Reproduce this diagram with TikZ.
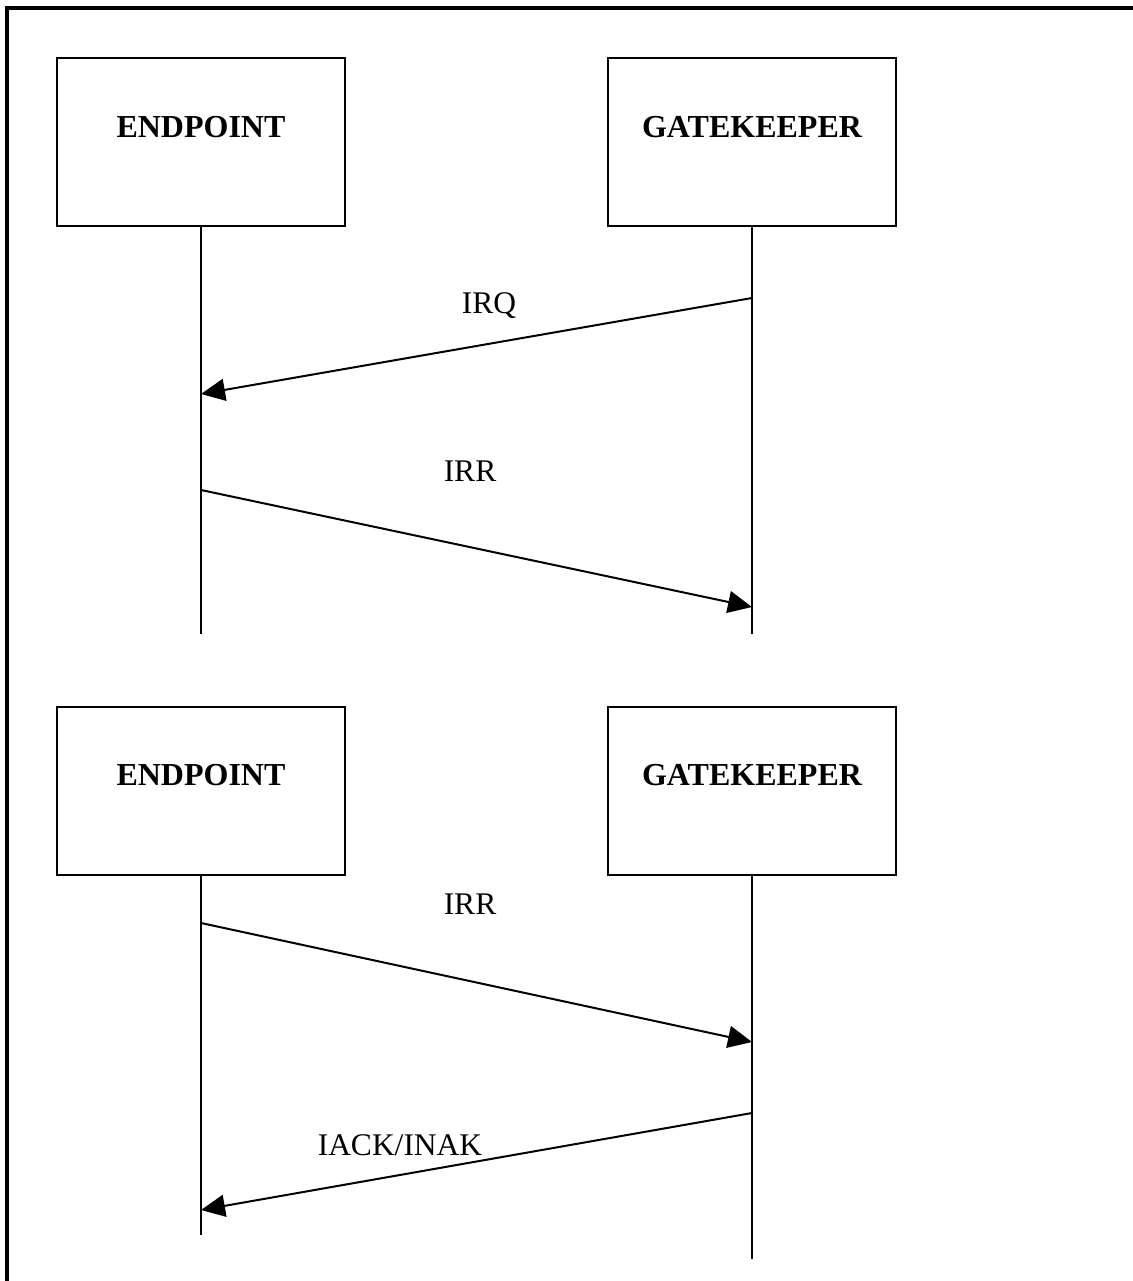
\documentclass[tikz,border=0pt]{standalone}
\usepackage{fontspec}
\setmainfont{Liberation Serif}
\usetikzlibrary{arrows.meta}
\begin{document}
\begin{tikzpicture}[x=1pt,y=-1pt,
  every node/.style={inner sep=0pt,outer sep=0pt},
  entity/.style={draw,line width=2pt,minimum width=288pt,minimum height=168pt},
  entitytext/.style={font=\fontsize{32}{36}\selectfont\bfseries},
  msgtext/.style={font=\fontsize{31.5}{36}\selectfont},
  lifeline/.style={line width=2pt},
  msg/.style={line width=2pt,-{Triangle[length=24pt,width=22pt]}},
  frame/.style={line width=4pt,line cap=rect}]
\useasboundingbox (0,0) rectangle (1132,1281);
\fill[white] (0,0) rectangle (1132,1281);
% page frame: top and left edges
\coordinate (ftr) at (1132,8);
\coordinate (ftl) at (7,8);
\coordinate (fbl) at (7,1281);
\draw[frame] (ftr) -- (ftl) -- (fbl);

% ---------- first exchange: IRQ / IRR ----------
\node[entity] (ep1) at (201,142) {};
\node[entity] (gk1) at (752,142) {};
\node[entitytext] (ep1t) at (201,127) {ENDPOINT};
\node[entitytext] (gk1t) at (752,127) {GATEKEEPER};
\coordinate (ep1end) at (201,634);
\coordinate (gk1end) at (752,634);
\draw[lifeline] (ep1.south) -- (ep1end);
\draw[lifeline] (gk1.south) -- (gk1end);

\coordinate (irqs) at (752,298);
\coordinate (irqe) at (201,394);
\draw[msg] (irqs) -- (irqe);
\node[msgtext] (irqt) at (489,306) {IRQ};

\coordinate (irrs) at (201,490);
\coordinate (irre) at (752,607);
\draw[msg] (irrs) -- (irre);
\node[msgtext] (irrt) at (470,471) {IRR};

% ---------- second exchange: IRR / IACK-INAK ----------
\node[entity] (ep2) at (201,791) {};
\node[entity] (gk2) at (752,791) {};
\node[entitytext] (ep2t) at (201,775) {ENDPOINT};
\node[entitytext] (gk2t) at (752,775) {GATEKEEPER};
\coordinate (ep2end) at (201,1235);
\coordinate (gk2end) at (752,1259);
\draw[lifeline] (ep2.south) -- (ep2end);
\draw[lifeline] (gk2.south) -- (gk2end);

\coordinate (irr2s) at (201,923);
\coordinate (irr2e) at (752,1042);
\draw[msg] (irr2s) -- (irr2e);
\node[msgtext] (irr2t) at (470,904) {IRR};

\coordinate (iacks) at (752,1113);
\coordinate (iacke) at (201,1210);
\draw[msg] (iacks) -- (iacke);
\node[msgtext] (iackt) at (400,1145) {IACK/INAK};
\end{tikzpicture}
\end{document}
